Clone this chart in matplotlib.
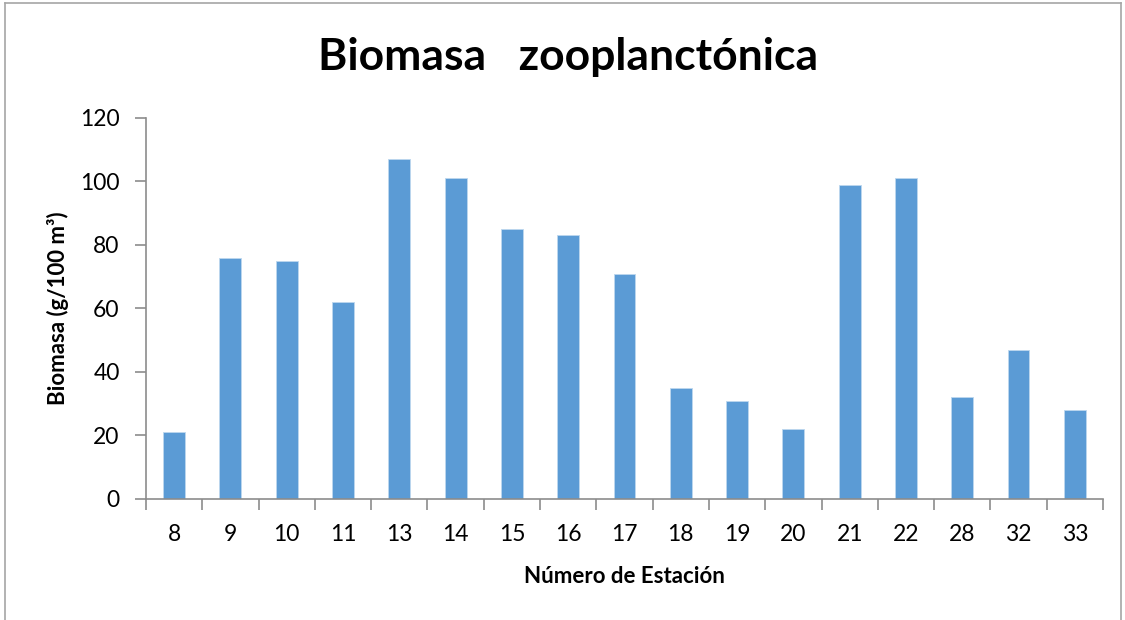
import numpy as np
import matplotlib.pyplot as plt
from matplotlib.lines import Line2D

plt.rcParams['font.family'] = ['Lato', 'DejaVu Sans']

# Data
stations = ['8', '9', '10', '11', '13', '14', '15', '16', '17',
            '18', '19', '20', '21', '22', '28', '32', '33']
biomasa = [21, 76, 75, 62, 107, 101, 85, 83, 71,
           35, 31, 22, 99, 101, 32, 47, 28]

axis_gray = '#8c8c8c'

fig = plt.figure(figsize=(11.25, 6.2), dpi=100)
ax = fig.add_axes([0.1298, 0.1952, 0.8506, 0.6145])

x = np.arange(len(stations))
ax.bar(x, biomasa, width=0.39, color='#5B9BD5', edgecolor='#BDD7EE', linewidth=0.6)

# Axes setup
ax.set_xlim(-0.5, len(stations) - 0.5)
ax.set_ylim(0, 120)
ax.set_yticks(np.arange(0, 121, 20))
ax.set_xticks(np.arange(-0.5, len(stations), 1))
ax.set_xticklabels([])
ax.set_xticks(x, minor=True)
ax.set_xticklabels(stations, minor=True)
ax.tick_params(axis='x', which='minor', length=0, pad=18, labelsize=16.5)
ax.tick_params(axis='x', which='major', length=8, color=axis_gray, width=1.2)
ax.tick_params(axis='y', length=8, color=axis_gray, width=1.2, labelsize=16.5, pad=11)

for s in ['top', 'right']:
    ax.spines[s].set_visible(False)
for s in ['left', 'bottom']:
    ax.spines[s].set_color(axis_gray)
    ax.spines[s].set_linewidth(1.2)

ax.set_xlabel('Número de Estación', fontsize=16, fontweight='bold', labelpad=15)
ax.set_ylabel('Biomasa (g/100 m³)', fontsize=16, fontweight='bold', labelpad=8)
fig.text(0.505, 0.908, 'Biomasa   zooplanctónica', ha='center', va='center',
         fontsize=32, fontweight='bold')

# Chart frame
fig.add_artist(Line2D([0.0045, 0.0045], [0, 0.995], color='#a6a6a6', lw=1.2))
fig.add_artist(Line2D([0.0045, 0.996], [0.995, 0.995], color='#a6a6a6', lw=1.2))
fig.add_artist(Line2D([0.996, 0.996], [0, 0.995], color='#a6a6a6', lw=1.2))

fig.savefig('out.png', dpi=100)
